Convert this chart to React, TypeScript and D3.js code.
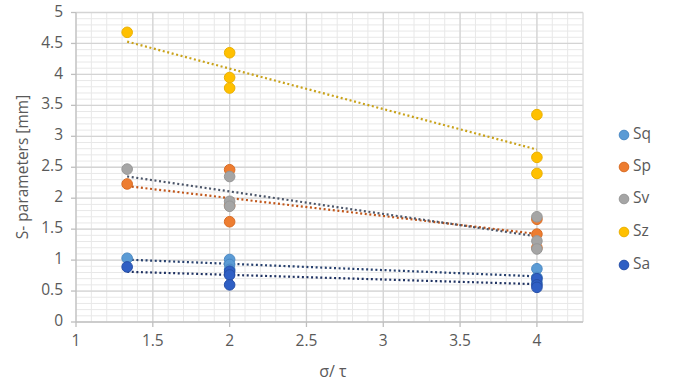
import React from "react";
import * as d3 from "d3";

const xValues = [1.333, 2, 2, 2, 4, 4, 4];
const seriesNames = ["Sq", "Sp", "Sv", "Sz", "Sa"];
const sqValues = [1.03, 1.01, 0.93, 0.85, 0.86, 0.72, 0.64];
const spValues = [2.23, 2.46, 1.62, 1.88, 1.66, 1.42, 1.2];
const svValues = [2.47, 2.35, 1.95, 1.87, 1.7, 1.31, 1.18];
const szValues = [4.68, 4.35, 3.95, 3.78, 3.35, 2.66, 2.4];
const saValues = [0.89, 0.82, 0.76, 0.6, 0.7, 0.6, 0.56];
const xTickLabels = ["1", "1.5", "2", "2.5", "3", "3.5", "4"];
const yTickLabels = ["0", "0.5", "1", "1.5", "2", "2.5", "3", "3.5", "4", "4.5", "5"];

const seriesValues = [sqValues, spValues, svValues, szValues, saValues];
const fills = ["#5b9bd5", "#ed7d31", "#a5a5a5", "#ffc000", "#2f5fc4"];
const strokes = ["#4a89c4", "#d96b22", "#979797", "#eab000", "#264fa8"];
const trendColors = ["#27406e", "#c0561a", "#4b5568", "#c9a21a", "#1f3262"];

function regression(xs: number[], ys: number[]) {
  const mx = d3.mean(xs) as number;
  const my = d3.mean(ys) as number;
  let sxy = 0;
  let sxx = 0;
  xs.forEach((x, i) => {
    sxy += (x - mx) * (ys[i] - my);
    sxx += (x - mx) * (x - mx);
  });
  const slope = sxy / sxx;
  return (x: number) => my + slope * (x - mx);
}

export default function App() {
  const W = 673;
  const H = 387;
  const x = d3.scaleLinear().domain([1, 4.3]).range([76, 583]);
  const y = d3.scaleLinear().domain([0, 5]).range([322, 12.5]);
  const font = "'Open Sans', 'Liberation Sans', sans-serif";
  const textColor = "#595959";

  const minorX = d3.range(10, 44).map((v) => v / 10);
  const minorY = d3.range(0, 51).map((v) => v / 10);
  const majorX = xTickLabels.map(Number);
  const majorY = yTickLabels.map(Number);

  const xMin = d3.min(xValues) as number;
  const xMax = d3.max(xValues) as number;
  const line = d3
    .line<[number, number]>()
    .x((d) => x(d[0]))
    .y((d) => y(d[1]));

  const legendY = [135, 167, 199, 232, 265];

  return (
    <svg
      width={W}
      height={H}
      style={{ position: "absolute", left: 0, top: 0, background: "#fff" }}
      fontFamily={font}
    >
      <rect width={W} height={H} fill="#fff" />
      {minorX.map((v) => (
        <line key={"mx" + v} x1={x(v)} x2={x(v)} y1={y(0)} y2={y(5)} stroke="#e8e8e8" strokeWidth={1} />
      ))}
      {minorY.map((v) => (
        <line key={"my" + v} x1={x(1)} x2={x(4.3)} y1={y(v)} y2={y(v)} stroke="#e8e8e8" strokeWidth={1} />
      ))}
      {majorX.slice(1).map((v) => (
        <line key={"Mx" + v} x1={x(v)} x2={x(v)} y1={y(0)} y2={y(5)} stroke="#d4d4d4" strokeWidth={1.3} />
      ))}
      {majorY.slice(1).map((v) => (
        <line key={"My" + v} x1={x(1)} x2={x(4.3)} y1={y(v)} y2={y(v)} stroke="#d4d4d4" strokeWidth={1.3} />
      ))}
      <line x1={x(4.3)} x2={x(4.3)} y1={y(0)} y2={y(5)} stroke="#dcdcdc" strokeWidth={1} />
      <line x1={x(1)} x2={x(4.3)} y1={y(0)} y2={y(0)} stroke="#bfbfbf" strokeWidth={1.3} />
      <line x1={x(1)} x2={x(1)} y1={y(0)} y2={y(5)} stroke="#bfbfbf" strokeWidth={1.3} />
      {majorX.map((v) => (
        <line key={"tx" + v} x1={x(v)} x2={x(v)} y1={y(0)} y2={y(0) + 5} stroke="#bfbfbf" strokeWidth={1.3} />
      ))}
      {majorY.map((v) => (
        <line key={"ty" + v} x1={x(1) - 5} x2={x(1)} y1={y(v)} y2={y(v)} stroke="#bfbfbf" strokeWidth={1.3} />
      ))}
      {xTickLabels.map((t) => (
        <text key={"xl" + t} x={x(Number(t))} y={y(0) + 20} textAnchor="middle" dominantBaseline="middle" fontSize={15.5} fill={textColor}>
          {t}
        </text>
      ))}
      {yTickLabels.map((t) => (
        <text key={"yl" + t} x={63} y={y(Number(t))} textAnchor="end" dominantBaseline="middle" fontSize={15.5} fill={textColor}>
          {t}
        </text>
      ))}
      <text x={333} y={373} textAnchor="middle" dominantBaseline="middle" fontSize={16} fill={textColor}>
        σ/ τ
      </text>
      <text
        transform={`translate(24,167) rotate(-90)`}
        textAnchor="middle"
        dominantBaseline="middle"
        fontSize={15.5}
        fill={textColor}
      >
        S- parameters [mm]
      </text>
      {seriesValues.map((vals, i) => {
        const f = regression(xValues, vals);
        const pts: [number, number][] = [
          [xMin, f(xMin)],
          [xMax, f(xMax)],
        ];
        return (
          <path
            key={"tr" + i}
            d={line(pts) as string}
            fill="none"
            stroke={trendColors[i]}
            strokeWidth={2.2}
            strokeDasharray="2 2.6"
          />
        );
      })}
      {seriesValues.map((vals, i) => (
        <g key={"s" + i}>
          {vals.map((v, j) => (
            <circle
              key={j}
              cx={x(xValues[j])}
              cy={y(v)}
              r={5.3}
              fill={fills[i]}
              stroke={strokes[i]}
              strokeWidth={1}
            />
          ))}
        </g>
      ))}
      {seriesNames.map((n, i) => (
        <g key={"lg" + n}>
          <circle cx={624} cy={legendY[i]} r={4.8} fill={fills[i]} stroke={strokes[i]} strokeWidth={1} />
          <text x={633} y={legendY[i]} dominantBaseline="middle" fontSize={15.5} fill={textColor}>
            {n}
          </text>
        </g>
      ))}
    </svg>
  );
}
